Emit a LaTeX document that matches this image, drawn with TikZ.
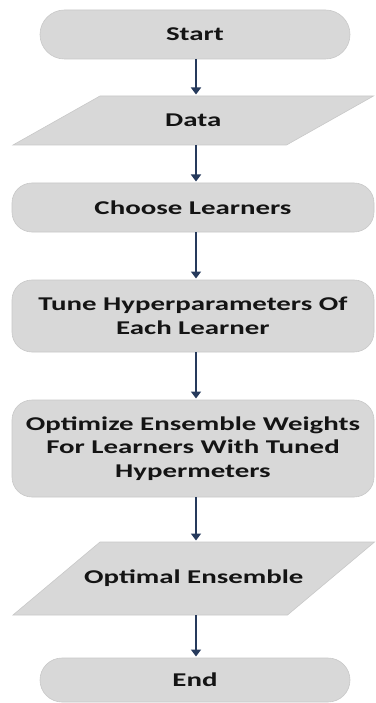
\documentclass[tikz,border=0pt]{standalone}
\usepackage{fontspec}
\setmainfont{Carlito}[FakeStretch=1.48]
\usetikzlibrary{arrows.meta,backgrounds}
\definecolor{boxfill}{RGB}{216,216,216}
\definecolor{boxedge}{RGB}{200,200,200}
\definecolor{flowblue}{RGB}{38,58,92}
\definecolor{labelink}{RGB}{20,20,20}
\begin{document}
\begin{tikzpicture}[x=1pt,y=-1pt,
  every node/.style={inner sep=0pt, outer sep=0pt, align=center, text=labelink,
    font=\fontsize{19.5}{23.5}\selectfont\bfseries},
  box/.style={fill=boxfill, draw=boxedge, line width=0.6pt},
  terminal/.style={box, rounded corners=#1},
  process/.style={box, rounded corners=20pt},
  iobox/.style={draw=none},
  slanted/.style={box},
  flow/.style={draw=flowblue, line width=1.8pt, -{Triangle[width=10pt,length=7pt]}, shorten >=1.5pt}
]
\useasboundingbox (0,0) rectangle (375,703);

\coordinate (ax) at (196,0);

\node[terminal=24.5pt, minimum width=310pt, minimum height=49pt] (start) at (195,34.5) {Start};
\node[iobox, minimum width=273.5pt, minimum height=49pt] (data) at (193.25,120.5) {Data};
\node[process, minimum width=362pt, minimum height=49pt] (choose) at (193,207.5) {Choose Learners};
\node[process, minimum width=362pt, minimum height=72pt] (tune) at (193,316) {Tune Hyperparameters Of\\Each Learner};
\node[process, minimum width=362pt, minimum height=97pt] (opt) at (193,448.5) {Optimize Ensemble Weights\\For Learners With Tuned\\Hypermeters};
\node[iobox, minimum width=274.5pt, minimum height=73pt] (ens) at (193.75,578.5) {Optimal Ensemble};
\node[terminal=22pt, minimum width=310pt, minimum height=44pt] (end) at (195,680) {End};

% page background, then the input/output parallelograms behind their labels
\begin{scope}[on background layer]
  \fill[white] (0,0) rectangle (375,703);
  \foreach \n in {data,ens}{
    \draw[slanted] ([xshift=43.5pt]\n.north west) -- ([xshift=43.5pt]\n.north east)
      -- ([xshift=-43.5pt]\n.south east) -- ([xshift=-43.5pt]\n.south west) -- cycle;
  }
\end{scope}

\draw[flow] (start.south -| ax) -- (data.north -| ax);
\draw[flow] (data.south -| ax) -- (choose.north -| ax);
\draw[flow] (choose.south -| ax) -- (tune.north -| ax);
\draw[flow] (tune.south -| ax) -- (opt.north -| ax);
\draw[flow] (opt.south -| ax) -- (ens.north -| ax);
\draw[flow] (ens.south -| ax) -- (end.north -| ax);
\end{tikzpicture}
\end{document}
